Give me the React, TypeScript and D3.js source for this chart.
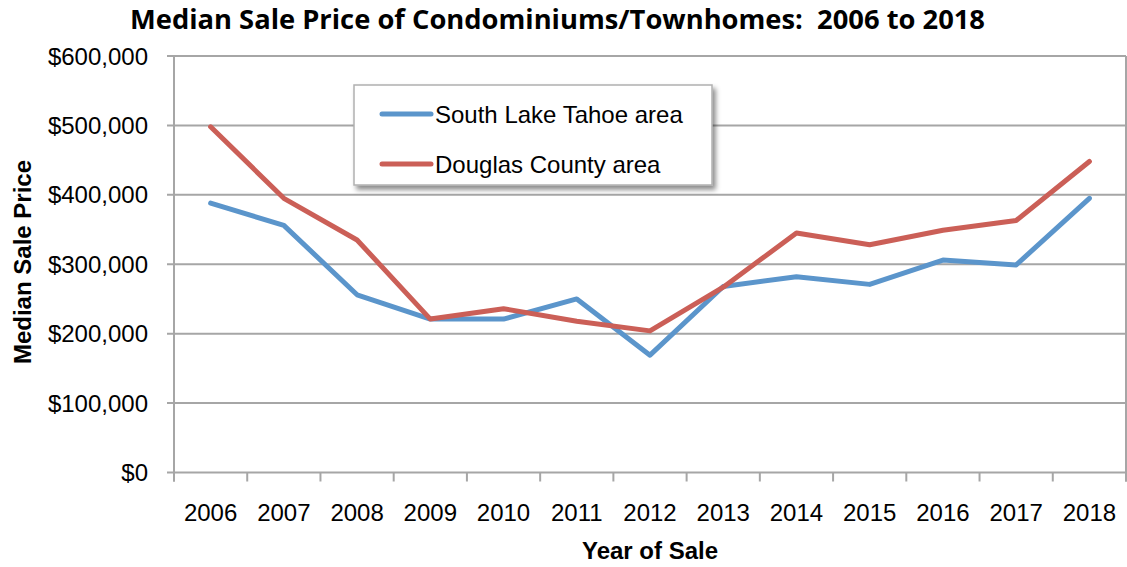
import React, { useEffect, useRef } from 'react';
import * as d3 from 'd3';

const years = ['2006', '2007', '2008', '2009', '2010', '2011', '2012', '2013', '2014', '2015', '2016', '2017', '2018'];
const southLakeTahoe = [388000, 356000, 256000, 221000, 221000, 250000, 169000, 268000, 282000, 271000, 306000, 299000, 395000];
const douglasCounty = [498000, 395000, 335000, 221000, 236000, 218000, 204000, 267000, 345000, 328000, 349000, 363000, 448000];
const yTicks = [0, 100000, 200000, 300000, 400000, 500000, 600000];

const BLUE = '#5b95cb';
const RED = '#cb5f57';
const GRID = '#a6a6a6';
const FONT = '"Liberation Sans", Arial, sans-serif';

export default function App() {
  const svgRef = useRef<SVGSVGElement>(null);

  useEffect(() => {
    const width = 1127;
    const height = 567;
    const m = { left: 174, right: 1126, top: 56, bottom: 472.5 };

    const svg = d3.select(svgRef.current)
      .attr('width', width)
      .attr('height', height);
    svg.selectAll('*').remove();

    const x = d3.scaleBand().domain(years).range([m.left, m.right]);
    const y = d3.scaleLinear().domain([0, 600000]).range([m.bottom, m.top]);

    // shadow filter for legend
    const defs = svg.append('defs');
    const f = defs.append('filter').attr('id', 'shadow').attr('x', '-10%').attr('y', '-10%').attr('width', '130%').attr('height', '140%');
    f.append('feDropShadow').attr('dx', 3).attr('dy', 4).attr('stdDeviation', 2.5).attr('flood-color', '#000').attr('flood-opacity', 0.45);

    // gridlines
    svg.append('g').selectAll('line')
      .data(yTicks)
      .enter().append('line')
      .attr('x1', m.left - 7).attr('x2', m.right)
      .attr('y1', (d) => y(d)).attr('y2', (d) => y(d))
      .attr('stroke', GRID).attr('stroke-width', 2);

    // y axis line and right border
    svg.append('line').attr('x1', m.left).attr('x2', m.left).attr('y1', m.top).attr('y2', m.bottom + 9)
      .attr('stroke', GRID).attr('stroke-width', 2);
    svg.append('line').attr('x1', m.right).attr('x2', m.right).attr('y1', m.top).attr('y2', m.bottom + 9)
      .attr('stroke', GRID).attr('stroke-width', 2);

    // x ticks
    const tickPos = years.map((yr) => x(yr)!).concat([m.right]);
    svg.append('g').selectAll('line')
      .data(tickPos)
      .enter().append('line')
      .attr('x1', (d) => d).attr('x2', (d) => d)
      .attr('y1', m.bottom).attr('y2', m.bottom + 9)
      .attr('stroke', GRID).attr('stroke-width', 2);

    // y tick labels
    svg.append('g').selectAll('text')
      .data(yTicks)
      .enter().append('text')
      .attr('x', 148).attr('y', (d) => y(d))
      .attr('dy', '0.36em')
      .attr('text-anchor', 'end')
      .attr('font-family', FONT).attr('font-size', 24)
      .attr('fill', '#000')
      .text((d) => '$' + d3.format(',')(d));

    // x tick labels
    svg.append('g').selectAll('text')
      .data(years)
      .enter().append('text')
      .attr('x', (d) => x(d)! + x.bandwidth() / 2)
      .attr('y', 521)
      .attr('text-anchor', 'middle')
      .attr('font-family', FONT).attr('font-size', 24)
      .attr('fill', '#000')
      .text((d) => d);

    // lines
    const line = d3.line<number>()
      .x((d, i) => x(years[i])! + x.bandwidth() / 2)
      .y((d) => y(d));

    svg.append('path').attr('d', line(southLakeTahoe)!)
      .attr('fill', 'none').attr('stroke', BLUE).attr('stroke-width', 5)
      .attr('stroke-linecap', 'round').attr('stroke-linejoin', 'round');
    svg.append('path').attr('d', line(douglasCounty)!)
      .attr('fill', 'none').attr('stroke', RED).attr('stroke-width', 5)
      .attr('stroke-linecap', 'round').attr('stroke-linejoin', 'round');

    // legend
    const lg = svg.append('g');
    lg.append('rect').attr('x', 354).attr('y', 85).attr('width', 358).attr('height', 100)
      .attr('fill', '#fff').attr('stroke', '#b0b0b0').attr('stroke-width', 1.5)
      .attr('filter', 'url(#shadow)');
    const items = [
      { label: 'South Lake Tahoe area', color: BLUE, yy: 114 },
      { label: 'Douglas County area', color: RED, yy: 164 },
    ];
    items.forEach((it) => {
      lg.append('line').attr('x1', 382).attr('x2', 431).attr('y1', it.yy).attr('y2', it.yy)
        .attr('stroke', it.color).attr('stroke-width', 5).attr('stroke-linecap', 'round');
      lg.append('text').attr('x', 435).attr('y', it.yy).attr('dy', '0.36em')
        .attr('font-family', FONT).attr('font-size', 24).attr('fill', '#000')
        .text(it.label);
    });

    // title
    svg.append('text').attr('x', 130).attr('y', 29)
      .attr('font-family', '"Open Sans", sans-serif').attr('font-weight', 'bold').attr('font-size', 26)
      .attr('textLength', 855).attr('lengthAdjust', 'spacingAndGlyphs')
      .attr('fill', '#000')
      .style('white-space', 'pre')
      .text('Median Sale Price of Condominiums/Townhomes:  2006 to 2018');

    // axis titles
    svg.append('text').attr('x', 650).attr('y', 559)
      .attr('text-anchor', 'middle')
      .attr('font-family', FONT).attr('font-weight', 'bold').attr('font-size', 24)
      .attr('fill', '#000')
      .text('Year of Sale');
    svg.append('text')
      .attr('transform', 'translate(31, 262) rotate(-90)')
      .attr('text-anchor', 'middle')
      .attr('font-family', FONT).attr('font-weight', 'bold').attr('font-size', 24)
      .attr('fill', '#000')
      .text('Median Sale Price');
  }, []);

  return (
    <div style={{ position: 'absolute', left: 0, top: 0 }}>
      <svg ref={svgRef}></svg>
    </div>
  );
}
